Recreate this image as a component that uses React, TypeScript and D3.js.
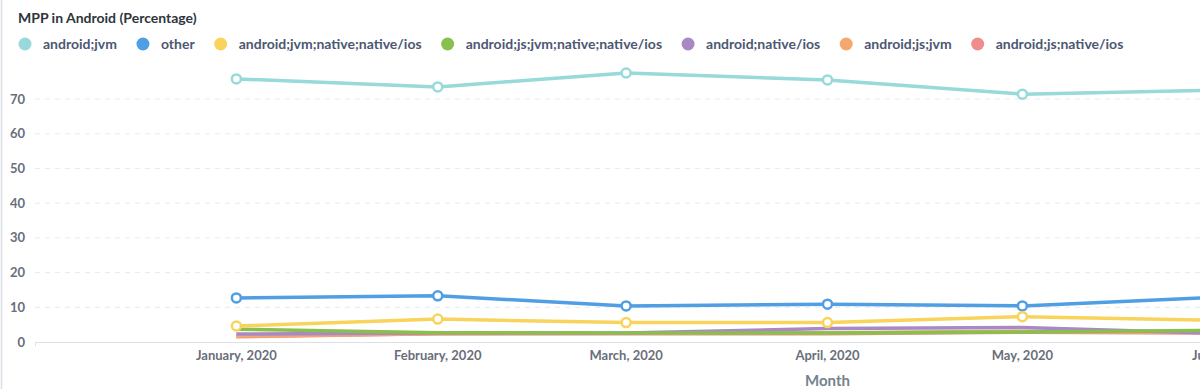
import * as d3 from 'd3';
import { useEffect, useRef } from 'react';

const months = ['2020-01-01', '2020-02-01', '2020-03-01', '2020-04-01', '2020-05-01', '2020-06-01'];
const seriesNames = [
  'android;jvm',
  'other',
  'android;jvm;native;native/ios',
  'android;js;jvm;native;native/ios',
  'android;native/ios',
  'android;js;jvm',
  'android;js;native/ios',
];
const seriesColors = ['#98D9D9', '#509EE3', '#F9D45C', '#88BF4D', '#A989C5', '#F2A86F', '#EF8C8C'];

const androidJvm = [75.8, 73.5, 77.5, 75.5, 71.4, 72.6];
const other = [12.7, 13.3, 10.4, 10.9, 10.4, 13.0];
const jvmNativeIos = [4.6, 6.6, 5.6, 5.6, 7.3, 6.2];
const jsJvmNativeIos = [3.7, 2.7, 2.6, 2.6, 2.9, 3.4];
const nativeIos = [2.3, 2.6, 2.6, 3.9, 4.2, 2.5];
const jsJvm = [1.7, 2.4, 2.5, 2.7, 3.1, 2.7];
const jsNativeIos = [1.5, 2.4, 2.4, 2.4, 2.8, 2.6];

const seriesValues = [androidJvm, other, jvmNativeIos, jsJvmNativeIos, nativeIos, jsJvm, jsNativeIos];
const yTicks = [0, 10, 20, 30, 40, 50, 60, 70];

export default function App() {
  const ref = useRef<SVGSVGElement>(null);

  useEffect(() => {
    const width = 1200;
    const height = 389;
    const svg = d3.select(ref.current);
    svg.selectAll('*').remove();

    const font = 'Lato, "Open Sans", sans-serif';

    // card border on the left
    svg.append('line')
      .attr('x1', 1.5).attr('x2', 1.5).attr('y1', 0).attr('y2', height)
      .attr('stroke', '#DCDFE3').attr('stroke-width', 1.5);

    svg.append('text')
      .attr('x', 18).attr('y', 23)
      .attr('font-family', font).attr('font-weight', 700).attr('font-size', 14)
      .attr('fill', '#2E353B')
      .text('MPP in Android (Percentage)');

    // legend
    const legend = svg.append('g');
    let lx = 25;
    seriesNames.forEach((name, i) => {
      legend.append('circle')
        .attr('cx', lx).attr('cy', 44).attr('r', 6.5)
        .attr('fill', seriesColors[i]);
      const t = legend.append('text')
        .attr('x', lx + 18).attr('y', 49)
        .attr('font-family', font).attr('font-weight', 700).attr('font-size', 14)
        .attr('fill', '#4C5773')
        .text(name);
      const w = (t.node() as SVGTextElement).getComputedTextLength();
      lx = lx + 18 + w + 26;
    });

    const x = d3.scaleTime()
      .domain([new Date(2019, 11, 1), new Date(2020, 7, 1)])
      .range([35, 1620]);
    const y = d3.scaleLinear()
      .domain([0, 78])
      .range([342, 342 - 78 * 3.471]);

    // grid
    svg.append('g')
      .selectAll('line')
      .data(yTicks.filter(d => d > 0))
      .join('line')
      .attr('x1', 35).attr('x2', width)
      .attr('y1', d => y(d)).attr('y2', d => y(d))
      .attr('stroke', '#E8EAED').attr('stroke-dasharray', '5,5');

    // y labels
    svg.append('g')
      .selectAll('text')
      .data(yTicks)
      .join('text')
      .attr('x', 25).attr('y', d => y(d) + 4.5)
      .attr('text-anchor', 'end')
      .attr('font-family', font).attr('font-weight', 700).attr('font-size', 13)
      .attr('fill', '#696E7B')
      .text(d => d);

    // x axis line
    svg.append('line')
      .attr('x1', 35).attr('x2', width).attr('y1', 342.5).attr('y2', 342.5)
      .attr('stroke', '#DCDFE3').attr('stroke-width', 1);
    svg.append('line')
      .attr('x1', 35.5).attr('x2', 35.5).attr('y1', 342).attr('y2', 346)
      .attr('stroke', '#DCDFE3');

    const dates = months.map(m => d3.isoParse(m) as Date);
    const fmt = d3.timeFormat('%B, %Y');
    svg.append('g')
      .selectAll('text')
      .data(dates)
      .join('text')
      .attr('x', d => x(d)).attr('y', 360)
      .attr('text-anchor', 'middle')
      .attr('font-family', font).attr('font-weight', 700).attr('font-size', 13)
      .attr('fill', '#696E7B')
      .text(d => fmt(d));

    svg.append('text')
      .attr('x', (35 + 1620) / 2).attr('y', 386)
      .attr('text-anchor', 'middle')
      .attr('font-family', font).attr('font-weight', 700).attr('font-size', 15)
      .attr('fill', '#74838F')
      .text('Month');

    const line = d3.line<number>()
      .x((_, i) => x(dates[i]))
      .y(d => y(d));

    // draw last series first so the first ones sit on top
    const plot = svg.append('g');
    seriesValues.map((vals, i) => ({ vals, i })).reverse().forEach(({ vals, i }) => {
      plot.append('path')
        .attr('d', line(vals))
        .attr('fill', 'none')
        .attr('stroke', seriesColors[i])
        .attr('stroke-width', 3.5)
        .attr('stroke-linejoin', 'round');
    });
    seriesValues.slice(0, 3).forEach((vals, i) => {
      plot.append('g')
        .selectAll('circle')
        .data(vals)
        .join('circle')
        .attr('cx', (_, j) => x(dates[j]))
        .attr('cy', d => y(d))
        .attr('r', 4.5)
        .attr('fill', '#fff')
        .attr('stroke', seriesColors[i])
        .attr('stroke-width', 2.5);
    });
  }, []);

  return (
    <svg ref={ref} width={1200} height={389}
      style={{ position: 'absolute', left: 0, top: 0, background: '#fff', overflow: 'hidden' }} />
  );
}
